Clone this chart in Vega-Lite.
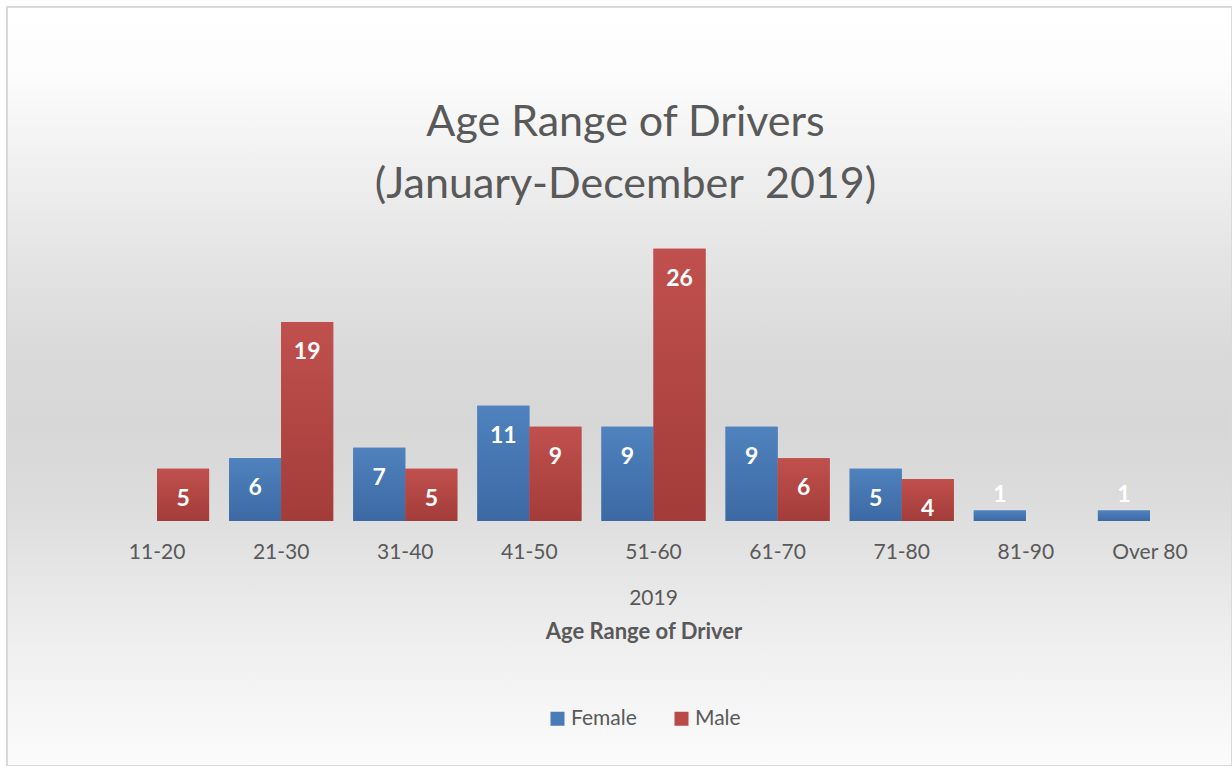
{
  "$schema": "https://vega.github.io/schema/vega-lite/v6.json",
  "width": 1225,
  "height": 759,
  "autosize": {"type": "none"},
  "padding": {"left": 7, "top": 7, "right": 0, "bottom": 0},
  "background": "#ffffff",
  "view": {
    "fill": {
      "gradient": "linear", "x1": 0, "y1": 0, "x2": 0, "y2": 1,
      "stops": [
        {"offset": 0, "color": "#ffffff"},
        {"offset": 0.09, "color": "#fcfcfc"},
        {"offset": 0.19, "color": "#f2f2f2"},
        {"offset": 0.32, "color": "#e5e5e5"},
        {"offset": 0.45, "color": "#dadada"},
        {"offset": 0.55, "color": "#d7d7d7"},
        {"offset": 0.65, "color": "#dcdcdc"},
        {"offset": 0.75, "color": "#e6e6e6"},
        {"offset": 0.85, "color": "#f0f0f0"},
        {"offset": 1, "color": "#fbfbfb"}
      ]
    },
    "stroke": "#d9d9d9",
    "strokeWidth": 2
  },
  "title": {
    "text": ["Age Range of Drivers", "(January-December\u00a0 2019)"],
    "font": "Lato",
    "fontSize": 43,
    "fontWeight": "normal",
    "color": "#595959",
    "lineHeight": 62,
    "anchor": "middle",
    "frame": "group",
    "orient": "top",
    "baseline": "bottom",
    "offset": -243,
    "dx": 6
  },
  "data": {
    "values": [
      {"age": "11-20", "gender": "Male", "count": 5},
      {"age": "21-30", "gender": "Female", "count": 6},
      {"age": "21-30", "gender": "Male", "count": 19},
      {"age": "31-40", "gender": "Female", "count": 7},
      {"age": "31-40", "gender": "Male", "count": 5},
      {"age": "41-50", "gender": "Female", "count": 11},
      {"age": "41-50", "gender": "Male", "count": 9},
      {"age": "51-60", "gender": "Female", "count": 9},
      {"age": "51-60", "gender": "Male", "count": 26},
      {"age": "61-70", "gender": "Female", "count": 9},
      {"age": "61-70", "gender": "Male", "count": 6},
      {"age": "71-80", "gender": "Female", "count": 5},
      {"age": "71-80", "gender": "Male", "count": 4},
      {"age": "81-90", "gender": "Female", "count": 1},
      {"age": "Over 80", "gender": "Female", "count": 1}
    ]
  },
  "encoding": {
    "x": {
      "field": "age",
      "type": "nominal",
      "sort": ["11-20", "21-30", "31-40", "41-50", "51-60", "61-70", "71-80", "81-90", "Over 80"],
      "scale": {"paddingInner": 0.1613, "paddingOuter": 0.5157, "align": 0.7656},
      "axis": {
        "title": "2019",
        "domain": false,
        "ticks": false,
        "tickSize": 0,
        "grid": false,
        "labelAngle": 0,
        "labelPadding": 20,
        "labelFont": "Lato",
        "labelFontSize": 21,
        "labelColor": "#595959",
        "offset": -245,
        "titleFont": "Lato",
        "titleFontSize": 21,
        "titleFontWeight": "normal",
        "titleColor": "#595959",
        "titleX": 646,
        "titleY": 77,
        "titleBaseline": "middle"
      }
    },
    "xOffset": {
      "field": "gender",
      "type": "nominal",
      "scale": {"domain": ["Female", "Male"], "paddingInner": 0, "paddingOuter": 0}
    },
    "y": {
      "field": "count",
      "type": "quantitative",
      "scale": {"domain": [-23.4, 49.09], "nice": false, "zero": false},
      "axis": null
    },
    "y2": {"datum": 0}
  },
  "layer": [
    {
      "mark": {"type": "bar"},
      "encoding": {
        "fill": {
          "field": "gender",
          "type": "nominal",
          "scale": {"domain": ["Female", "Male"], "range": ["#4a7bb9", "#b94a47"]},
          "legend": {
            "orient": "none",
            "legendX": 539,
            "legendY": 615,
            "direction": "horizontal",
            "title": "Age Range of Driver",
            "titleFont": "Lato",
            "titleFontSize": 22,
            "titleFontWeight": "bold",
            "titleColor": "#595959",
            "titleLimit": 500,
            "titlePadding": 64,
            "titleAnchor": "middle",
            "labelFont": "Lato",
            "labelFontSize": 21,
            "labelColor": "#595959",
            "symbolType": "square",
            "symbolSize": 196,
            "symbolStrokeWidth": 0,
            "labelOffset": 3,
            "columnPadding": 34,
            "padding": 0
          }
        }
      }
    },
    {
      "transform": [{"filter": "datum.gender === 'Female'"}],
      "mark": {
        "type": "bar",
        "fill": {"gradient": "linear", "x1": 0, "y1": 0, "x2": 0, "y2": 1, "stops": [{"offset": 0, "color": "#4f82be"}, {"offset": 1, "color": "#3c69a4"}]}
      }
    },
    {
      "transform": [{"filter": "datum.gender === 'Male'"}],
      "mark": {
        "type": "bar",
        "fill": {"gradient": "linear", "x1": 0, "y1": 0, "x2": 0, "y2": 1, "stops": [{"offset": 0, "color": "#c0504d"}, {"offset": 1, "color": "#a33c39"}]}
      }
    },
    {
      "transform": [{"filter": "datum.count >= 3"}],
      "mark": {"type": "text", "dy": 30, "align": "center", "baseline": "middle", "font": "Lato", "fontSize": 23, "fontWeight": "bold", "color": "#ffffff"},
      "encoding": {"text": {"field": "count", "type": "quantitative"}, "y2": null}
    },
    {
      "transform": [{"filter": "datum.count < 3"}],
      "mark": {"type": "text", "dy": -16, "align": "center", "baseline": "middle", "font": "Lato", "fontSize": 23, "fontWeight": "bold", "color": "#ffffff"},
      "encoding": {"text": {"field": "count", "type": "quantitative"}, "y2": null}
    }
  ]
}
